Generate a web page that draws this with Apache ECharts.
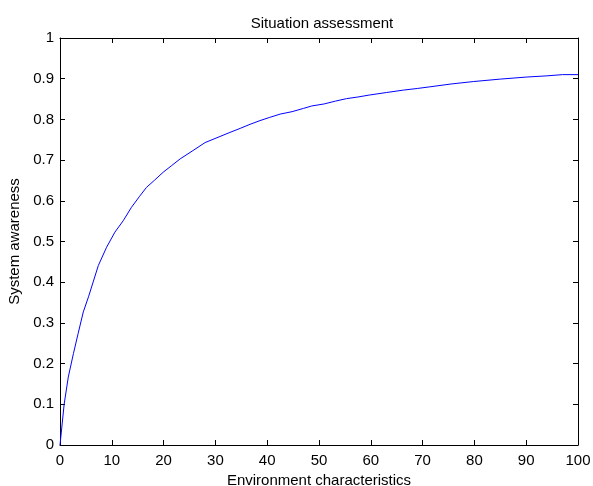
<!DOCTYPE html>
<html>
<head>
<meta charset="utf-8">
<script src="https://cdn.jsdelivr.net/npm/echarts@6/dist/echarts.min.js"></script>
<style>
html,body{margin:0;padding:0;background:#fff;}
#chart{width:593px;height:486px;}
</style>
</head>
<body>
<div id="chart"></div>
<script>
var titleText = 'Situation assessment';
var xName = 'Environment characteristics';
var yName = 'System awareness';
var xValues = [0, 0.8, 1.6, 2.6, 3.5, 4.5, 5.5, 7.4, 9, 10.6, 12.2, 13.8, 15.3, 16.7, 18.2, 19.9, 21.5, 23.2, 25.5, 28, 30.5, 32.8, 34.8, 36.7, 38.6, 40.5, 42.5, 44.8, 47, 48.6, 51, 53.2, 55.3, 57.5, 59.8, 63, 66.3, 69, 71.4, 75.5, 79.8, 85, 90, 94, 97, 100];
var yValues = [0, 0.100, 0.167, 0.225, 0.274, 0.327, 0.364, 0.441, 0.486, 0.523, 0.551, 0.584, 0.610, 0.633, 0.650, 0.670, 0.686, 0.703, 0.722, 0.743, 0.756, 0.768, 0.778, 0.788, 0.797, 0.805, 0.813, 0.819, 0.827, 0.833, 0.838, 0.845, 0.851, 0.855, 0.860, 0.866, 0.872, 0.876, 0.880, 0.887, 0.893, 0.899, 0.904, 0.907, 0.910, 0.910];

var data = xValues.map(function (x, i) { return [x, yValues[i]]; });
var font = 'Liberation Sans, Arial, sans-serif';
var fs = 15;
function axisCommon() {
  return {
    axisLine: {show: true, onZero: false, lineStyle: {color: '#000', width: 1}},
    axisTick: {show: true, inside: true, length: 5, lineStyle: {color: '#000'}},
    splitLine: {show: false}
  };
}
var chart = echarts.init(document.getElementById('chart'));
chart.setOption({
  animation: false,
  backgroundColor: '#fff',
  title: {text: titleText, left: 317, top: 11, textAlign: 'center',
    textStyle: {fontFamily: font, fontSize: fs, fontWeight: 'normal', color: '#000'}},
  grid: {left: 60, top: 38, right: 15, bottom: 41, containLabel: false, outerBoundsMode: 'none'},
  xAxis: [
    Object.assign({type: 'value', min: 0, max: 100, interval: 10, position: 'bottom',
      name: xName, nameLocation: 'middle', nameGap: 21,
      nameTextStyle: {fontFamily: font, fontSize: fs, color: '#000'},
      axisLabel: {fontFamily: font, fontSize: fs, color: '#000', margin: 8}}, axisCommon()),
    Object.assign({type: 'value', min: 0, max: 100, interval: 10, position: 'top',
      axisLabel: {show: false}}, axisCommon())
  ],
  yAxis: [
    Object.assign({type: 'value', min: 0, max: 1, interval: 0.1, position: 'left',
      name: yName, nameLocation: 'middle', nameGap: 36, nameRotate: 90,
      nameTextStyle: {fontFamily: font, fontSize: fs, color: '#000'},
      axisLabel: {fontFamily: font, fontSize: fs, color: '#000', margin: 6,
        formatter: function (v) { return String(Math.round(v * 10) / 10); }}}, axisCommon()),
    Object.assign({type: 'value', min: 0, max: 1, interval: 0.1, position: 'right',
      axisLabel: {show: false}}, axisCommon())
  ],
  series: [{
    type: 'line', data: data, showSymbol: false, smooth: false,
    lineStyle: {color: '#0000ff', width: 1}, itemStyle: {color: '#0000ff'}
  }]
});
</script>
</body>
</html>
